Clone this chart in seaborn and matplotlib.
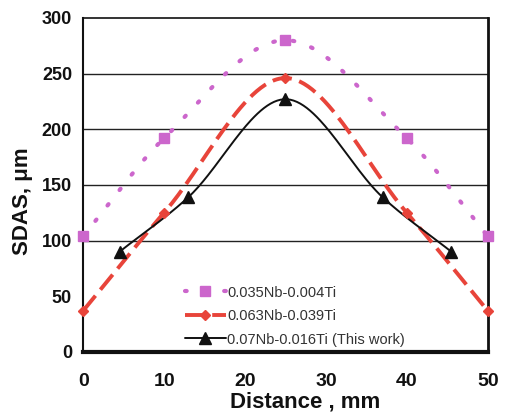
import numpy as np
import pandas as pd
import matplotlib
matplotlib.use("Agg")
import matplotlib.pyplot as plt
import seaborn as sns

# ---- data ----
labels = ["0.035Nb-0.004Ti", "0.063Nb-0.039Ti", "0.07Nb-0.016Ti (This work)"]
x_a = [0, 10, 25, 40, 50]
y_a = [104, 192, 280, 192, 104]
x_b = [0, 10, 25, 40, 50]
y_b = [37, 125, 246, 125, 37]
x_c = [4.5, 13, 25, 37, 45.5]
y_c = [90, 139, 227, 139, 90]
x_ticks = [0, 10, 20, 30, 40, 50]
y_ticks = [0, 50, 100, 150, 200, 250, 300]
grid_vals = [100, 150, 200, 250]


def smooth(xs, ys, n=60):
    """Smoothed line (cubic Hermite in x) through the given points, as Excel draws it."""
    xs = np.asarray(xs, float); ys = np.asarray(ys, float)
    m = np.empty_like(ys)
    m[1:-1] = (ys[2:] - ys[:-2]) / (xs[2:] - xs[:-2])
    m[0] = (ys[1] - ys[0]) / (xs[1] - xs[0])
    m[-1] = (ys[-1] - ys[-2]) / (xs[-1] - xs[-2])
    X, Y = [], []
    for i in range(len(xs) - 1):
        h = xs[i + 1] - xs[i]
        s = np.linspace(0, 1, n)
        if i > 0:
            s = s[1:]
        h00 = 2 * s**3 - 3 * s**2 + 1
        h10 = s**3 - 2 * s**2 + s
        h01 = -2 * s**3 + 3 * s**2
        h11 = s**3 - s**2
        X.append(xs[i] + s * h)
        Y.append(h00 * ys[i] + h10 * h * m[i] + h01 * ys[i + 1] + h11 * h * m[i + 1])
    return np.concatenate(X), np.concatenate(Y)


sns.set_theme(style="white")
plt.rcParams['font.family'] = ['Liberation Sans', 'DejaVu Sans']

fig = plt.figure(figsize=(5.07, 4.17), dpi=100)
ax = fig.add_axes([0.164, 0.156, 0.798, 0.801])

pink = "#CC66CC"
red = "#E8443A"
black = "#111111"

series = [
    (x_a, y_a, pink, dict(linestyle=(0, (0.4, 4.3)), linewidth=3.0, dash_capstyle="round"), "s", 7.5),
    (x_b, y_b, red, dict(linestyle=(0, (5, 2)), linewidth=2.8), "D", 5),
    (x_c, y_c, black, dict(linestyle="-", linewidth=1.4), "^", 8),
]

handles = []
for (xs, ys, col, ls, mk, ms), lab in zip(series, labels):
    sx, sy = smooth(xs, ys)
    df_s = pd.DataFrame({"x": sx, "y": sy})
    sns.lineplot(data=df_s, x="x", y="y", ax=ax, color=col, sort=False,
                 estimator=None, **ls)
    df = pd.DataFrame({"x": xs, "y": ys})
    ax.plot(df["x"], df["y"], linestyle="none", marker=mk, markersize=ms,
            color=col, markeredgecolor=col, zorder=4, clip_on=False)
    h, = ax.plot([], [], color=col, marker=mk, markersize=ms, markeredgecolor=col, **ls)
    handles.append(h)

for g in grid_vals:
    ax.axhline(g, color="#222222", linewidth=1.0, zorder=0)

ax.set_xlim(0, 50)
ax.set_ylim(0, 300)
ax.set_xticks(x_ticks)
ax.set_yticks(y_ticks)
ax.set_xticklabels([str(v) for v in x_ticks], fontsize=14, fontweight="bold", color="#111111")
ax.set_yticklabels([str(v) for v in y_ticks], fontsize=13, fontweight="bold", color="#111111")
ax.tick_params(axis="x", direction="in", length=3, width=1, color="#333333", pad=15)
ax.tick_params(axis="y", length=0, pad=8)

for side, w in [("bottom", 3), ("left", 1.5), ("right", 2), ("top", 1.2)]:
    ax.spines[side].set_visible(True)
    ax.spines[side].set_linewidth(w)
    ax.spines[side].set_color("#111111")

ax.set_xlabel("Distance , mm", fontsize=16, fontweight="bold", color="#111111")
ax.set_ylabel("SDAS, μm", fontsize=16, fontweight="bold", color="#111111")
ax.xaxis.set_label_coords(0.548, -0.118)
ax.yaxis.set_label_coords(-0.123, 0.45)

leg = ax.legend(handles, labels, loc="lower left", bbox_to_anchor=(0.23, -0.01),
                frameon=False, fontsize=10.5, handlelength=2.8, handletextpad=0.1,
                labelspacing=0.65, borderaxespad=0.2)
for t in leg.get_texts():
    t.set_color("#333333")

fig.savefig("out.png", dpi=100)
